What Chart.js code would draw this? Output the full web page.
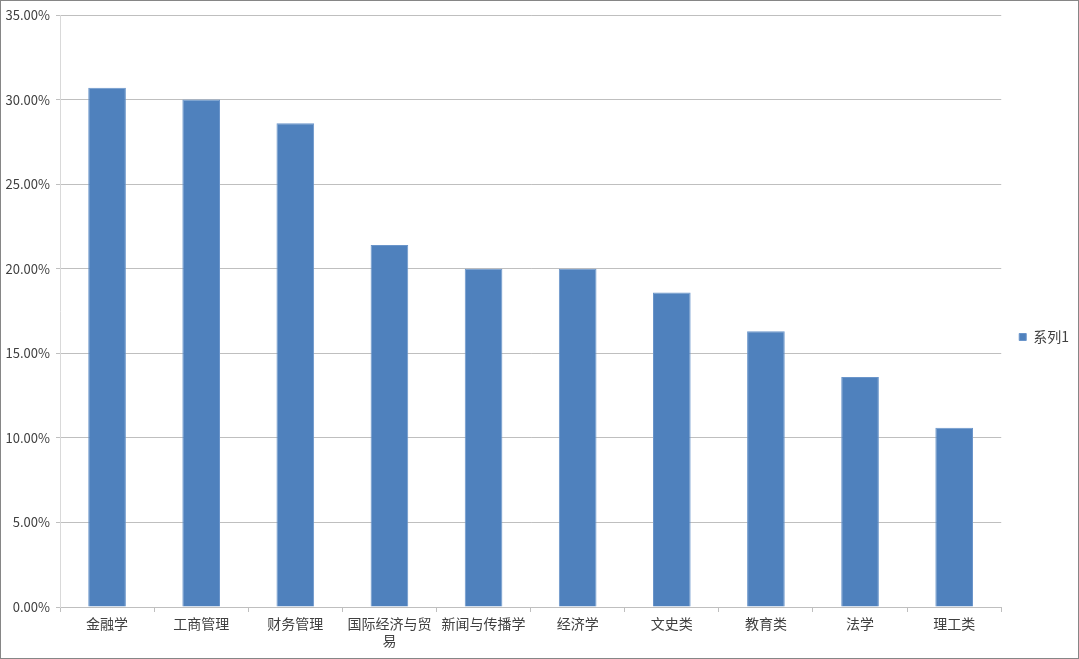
<!DOCTYPE html>
<html>
<head>
<meta charset="utf-8">
<script src="https://cdn.jsdelivr.net/npm/chart.js@4"></script>
<style>
  html, body { margin: 0; padding: 0; background: #fff; }
</style>
</head>
<body>
<canvas id="barChart" width="1079" height="659"></canvas>
<script>
// categories and values (percent)
var categories = ['金融学', '工商管理', '财务管理', ['国际经济与贸', '易'], '新闻与传播学', '经济学', '文史类', '教育类', '法学', '理工类'];
var series1 = [30.7, 30.0, 28.6, 21.4, 20.0, 20.0, 18.6, 16.3, 13.6, 10.6];
var yTicks = [0, 5, 10, 15, 20, 25, 30, 35];

var frame = {
    id: 'frame',
    afterDraw: function (chart) {
        var c = chart.ctx;
        c.save();
        c.strokeStyle = '#868686';
        c.lineWidth = 1;
        c.strokeRect(0.5, 0.5, chart.width - 1, chart.height - 1);
        c.restore();
    }
};

var ctx = document.getElementById('barChart').getContext('2d');
var barChart = new Chart(ctx, {
    type: 'bar',
    data: {
        labels: categories,
        datasets: [{
            label: '系列1',
            data: series1,
            backgroundColor: '#4F81BD',
            borderColor: '#6A95CA',
            borderWidth: 1,
            barPercentage: 0.4,
            categoryPercentage: 1.0
        }]
    },
    options: {
        responsive: false,
        animation: false,
        layout: {
            padding: { top: 15, right: 0, bottom: 0, left: 0 }
        },
        scales: {
            x: {
                grid: {
                    offset: true,
                    drawOnChartArea: false,
                    drawTicks: true,
                    tickLength: 5,
                    color: '#BFBFBF'
                },
                border: { color: '#BFBFBF' },
                ticks: {
                    color: '#404040',
                    font: { family: 'Noto Sans CJK SC', size: 14 },
                    maxRotation: 0,
                    autoSkip: false,
                    padding: 3
                },
                afterFit: function (scale) { scale.height = 52; }
            },
            y: {
                min: 0,
                max: 35,
                afterBuildTicks: function (scale) {
                    scale.ticks = yTicks.map(function (v) { return { value: v }; });
                },
                grid: {
                    color: '#BFBFBF',
                    tickLength: 4
                },
                border: { color: '#D9D9D9' },
                ticks: {
                    color: '#404040',
                    font: { family: 'Noto Sans CJK SC', size: 13 },
                    padding: 6,
                    callback: function (v) { return v.toFixed(2) + '%'; }
                },
                afterFit: function (scale) { scale.width = 60; }
            }
        },
        plugins: {
            legend: {
                position: 'right',
                labels: {
                    boxWidth: 7,
                    boxHeight: 7,
                    padding: 18,
                    color: '#404040',
                    font: { family: 'Noto Sans CJK SC', size: 14 }
                }
            },
            tooltip: { enabled: false }
        }
    },
    plugins: [frame]
});
</script>
</body>
</html>
